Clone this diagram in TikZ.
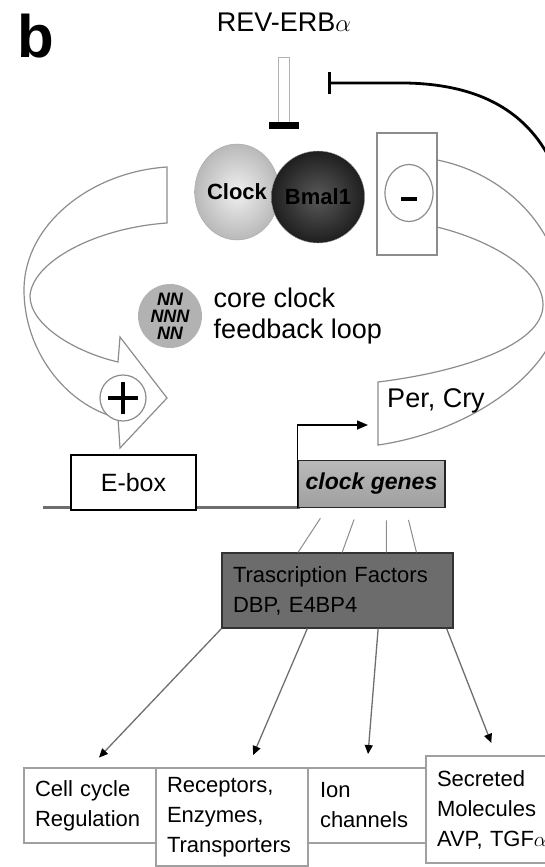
\documentclass[tikz,border=0pt]{standalone}
\usepackage{fontspec}
\setmainfont{Liberation Sans}
\usetikzlibrary{arrows.meta,positioning,calc,shapes.geometric}
\definecolor{RelogioBorda}{RGB}{140,140,140}
\definecolor{RelogioCaixa}{RGB}{160,160,160}
\definecolor{RelogioFator}{RGB}{108,108,108}
\definecolor{RelogioLinha}{RGB}{110,110,110}
\tikzset{
  faixa/.style={draw=RelogioBorda, line width=1.2pt},
  inibe/.style={-{Bar[width=22pt]}, line width=2.8pt, black},
  seta/.style={-{Triangle[length=9pt,width=8pt,color=black]}, line width=1.3pt,
               draw=RelogioLinha, shorten >=13pt},
  fio/.style={draw=RelogioBorda, line width=1pt, shorten <=12pt},
  caixafim/.style={draw=RelogioCaixa, line width=2pt, fill=white, align=left,
               font=\fontsize{22}{30}\selectfont, inner xsep=11pt, inner ysep=0pt,
               anchor=north west},
  proteina/.style={ellipse, inner sep=0pt, draw=gray!70,
               font=\fontsize{22}{24}\selectfont\bfseries},
  rotulo/.style={font=\fontsize{27}{31}\selectfont, align=left},
}

\begin{document}
\begin{tikzpicture}[x=1pt,y=-1pt]
  \useasboundingbox (0,0) rectangle (545,867);

  % Faixas do ciclo
  \draw[faixa] (167,167) -- (167,223)
    .. controls (95,228) and (32,262) .. (30,296)
    .. controls (30,325) and (75,352) .. (118,362)
    -- (120,337) -- (167,398) -- (120,448) -- (118,418)
    .. controls (65,405) and (24,350) .. (24,290)
    .. controls (24,225) and (90,172) .. cycle;
  \draw[faixa] (437,160) .. controls (500,172) and (562,225) .. (562,300)
    .. controls (562,370) and (470,432) .. (378,445)
    -- (378,382)
    .. controls (460,372) and (543,345) .. (543,305)
    .. controls (543,270) and (490,240) .. (437,227);

  % Inibidores
  \node[font=\fontsize{60}{60}\selectfont\bfseries] (letra) at (36,36) {b};
  \node[font=\fontsize{27}{27}\selectfont] (reverb) at (284,22) {REV-ERB$\alpha$};
  \node[draw=gray!60, fill=white, minimum width=11, minimum height=65, inner sep=0pt]
    (haste) at (283.5,89.5) {};
  \node[fill=black, minimum width=30, minimum height=7, inner sep=0pt, below=0pt of haste]
    (barra) {};
  \coordinate (alvo) at (328,83);
  \coordinate (origem) at (553,165);
  \draw[inibe] (origem) .. controls (525,105) and (470,84) .. (405,83) -- (alvo);

  % Dimero
  \node[proteina, minimum width=82, minimum height=96, inner color=gray!12, outer color=gray!55]
    (clock) at (237,192) {Clock};
  \node[proteina, minimum width=80, minimum height=92, inner color=black!65, outer color=black!88]
    (bmal) at (318,197) {Bmal1};
  \node[draw=RelogioBorda, line width=1.4pt, fill=white, minimum width=60, minimum height=122,
    inner sep=0pt] (caixamenos) at (407,194) {};
  \node[ellipse, draw=RelogioBorda, line width=1.2pt, minimum width=48, minimum height=57,
    inner sep=0pt] (menos) at (409,193) {};
  \draw[line width=4pt] ([xshift=-8pt,yshift=-6pt]menos.center) -- ([xshift=8pt,yshift=-6pt]menos.center);

  % Legenda do ciclo
  \node[circle, fill=gray!60, minimum width=64, inner sep=0pt,
    font=\fontsize{18}{17}\selectfont\bfseries\itshape, align=center] (nnn) at (170,316)
    {NN\\NNN\\NN};
  \node[rotulo, right=8pt of nnn] (legenda) {core clock\\feedback loop};
  \node[rotulo] (percry) at (436,401) {Per, Cry};
  \node[circle, draw=RelogioBorda, line width=1.2pt, fill=white, minimum size=46, inner sep=0pt]
    (mais) at (123,398) {};
  \draw[line width=4pt] ([xshift=-15pt]mais.center) -- ([xshift=15pt]mais.center);
  \draw[line width=4pt] ([yshift=-16pt]mais.center) -- ([yshift=16pt]mais.center);

  % DNA
  \coordinate (inicio) at (43,507);
  \coordinate (fimdna) at (300,507);
  \draw[line width=3pt, RelogioLinha] (inicio) -- (fimdna);
  \node[draw=black, line width=2.5pt, fill=white, minimum width=125, minimum height=55,
    inner sep=0pt, font=\fontsize{25}{25}\selectfont] (ebox) at (133.5,482.5) {E-box};
  \node[draw=gray!30!black, line width=1.5pt, top color=gray!55, middle color=gray!30,
    bottom color=gray!75, minimum width=147, minimum height=47, inner sep=0pt,
    font=\fontsize{23}{23}\selectfont\bfseries\itshape] (genes) at (371.5,484) {clock genes};
  \coordinate (tss) at (368,425);
  \draw[-{Triangle[length=11pt,width=9pt]}, line width=1.5pt] (genes.south west) |- (tss);

  % Fatores de transcricao
  \node[draw=gray!40!black, line width=1.2pt, fill=RelogioFator, minimum width=231,
    minimum height=75, inner xsep=11pt, text width=209pt, align=left,
    font=\fontsize{22}{30}\selectfont] (fatores) at (337.5,590.5)
    {Trascription Factors\\DBP, E4BP4};
  \foreach \a/\b in {0.20/0.33, 0.41/0.52, 0.60/0.71, 0.73/0.84}
    \draw[fio] ($(genes.south west)!\a!(genes.south east)$)
      -- ($(fatores.north west)!\b!(fatores.north east)$);

  % Alvos
  \node[caixafim, minimum width=132, minimum height=75, text width=110pt] (ciclo) at (23,767)
    {Cell cycle\\Regulation};
  \node[caixafim, minimum width=152, minimum height=98, text width=130pt] (receptores) at (155,767)
    {Receptors,\\Enzymes,\\Transporters};
  \node[caixafim, minimum width=116, minimum height=75, text width=94pt, inner xsep=12pt] (canais) at (307,767)
    {Ion\\channels};
  \node[caixafim, minimum width=140, minimum height=107, text width=118pt] (secretadas) at (425,755)
    {Secreted\\Molecules\\AVP, TGF$\alpha$};

  \draw[seta] (fatores.south west) -- (ciclo.north);
  \draw[seta] ($(fatores.south west)!0.37!(fatores.south east)$) -- ([xshift=16pt]receptores.north);
  \draw[seta] ($(fatores.south west)!0.675!(fatores.south east)$) -- (canais.north);
  \draw[seta] ($(fatores.south west)!0.97!(fatores.south east)$) -- (secretadas.north);
\end{tikzpicture}
\end{document}
